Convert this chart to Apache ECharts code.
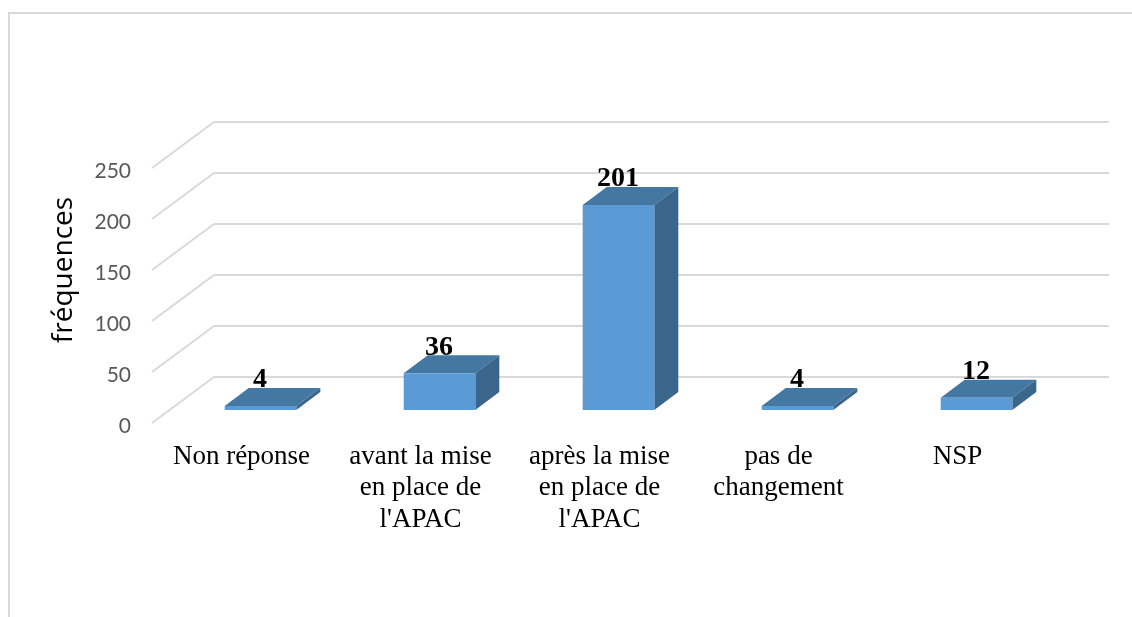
<!DOCTYPE html>
<html>
<head>
<meta charset="utf-8">
<style>html,body{margin:0;padding:0;background:#fff}#chart{width:1132px;height:617px}</style>
<script src="https://cdn.jsdelivr.net/npm/echarts@6/dist/echarts.min.js"></script>
</head>
<body>
<div id="chart"></div>
<script>
const categories = ['Non réponse', "avant la mise\nen place de\nl'APAC", "après la mise\nen place de\nl'APAC", 'pas de\nchangement', 'NSP'];
const frequencies = [4, 36, 201, 4, 12];
const yTicks = [0, 50, 100, 150, 200, 250];
const axisTitle = 'fréquences';

// Oblique projection of the 3D box: offsets from the back wall, in pixels.
const FLOOR_DX = -62, FLOOR_DY = 46;
const FRONT_DX = -43, FRONT_DY = 33;
const DEPTH_DX = 24, DEPTH_DY = -18;

function renderDiagonal(params, api) {
  const y = api.coord([0, api.value(0)])[1];
  const x = params.coordSys.x;
  return {
    type: 'polyline',
    shape: { points: [[x + FLOOR_DX, y + FLOOR_DY], [x, y]] },
    style: { stroke: '#d9d9d9', lineWidth: 2, fill: null }
  };
}

function renderBar(params, api) {
  const idx = api.value(0), val = api.value(1);
  const top = api.coord([idx, val]);
  const base = api.coord([idx, 0]);
  const w = api.size([1, 0])[0] * 0.4;
  const x0 = top[0] + FRONT_DX - w / 2, x1 = x0 + w;
  const yt = top[1] + FRONT_DY, yb = base[1] + FRONT_DY;
  const dx = DEPTH_DX, dy = DEPTH_DY;
  return {
    type: 'group',
    children: [
      { type: 'polygon', shape: { points: [[x0, yt], [x1, yt], [x1 + dx, yt + dy], [x0 + dx, yt + dy]] },
        style: { fill: '#4577a3' } },
      { type: 'polygon', shape: { points: [[x1, yt], [x1 + dx, yt + dy], [x1 + dx, yb + dy], [x1, yb]] },
        style: { fill: '#3b668c' } },
      { type: 'rect', shape: { x: x0, y: yt, width: w, height: yb - yt },
        style: { fill: '#5b9bd5' } },
      { type: 'text', z2: 10, style: {
          text: String(val), x: x0 + w / 2 - 0.5, y: yt - 26, align: 'center', verticalAlign: 'middle',
          font: 'bold 28px "Liberation Serif"', fill: '#000'
      } }
    ]
  };
}

const chart = echarts.init(document.getElementById('chart'), null, { renderer: 'canvas' });
chart.setOption({
  animation: false,
  backgroundColor: '#fff',
  graphic: [
    { type: 'polyline', silent: true,
      shape: { points: [[9, 617], [9, 13], [1132, 13]] },
      style: { stroke: '#d9d9d9', lineWidth: 2, fill: null } },
    { type: 'text', silent: true, x: 64, y: 270, rotation: Math.PI / 2,
      style: { text: axisTitle, align: 'center', verticalAlign: 'middle',
               font: '28px "Open Sans"', fill: '#000' } }
  ],
  grid: [
    // back wall of the box
    { left: 214, top: 122, width: 895, height: 255 },
    // front plane carrying the axis labels
    { left: 152, top: 171, width: 895, height: 255 }
  ],
  xAxis: [
    { gridIndex: 0, type: 'category', data: categories, show: false },
    { gridIndex: 1, type: 'category', data: categories,
      axisLine: { show: false }, axisTick: { show: false },
      axisLabel: { interval: 0, margin: 15, color: '#000', fontFamily: 'Liberation Serif', fontSize: 27, lineHeight: 31.5, verticalAlign: 'top' } }
  ],
  yAxis: [
    { gridIndex: 0, type: 'value', min: 0, max: 250, interval: 50,
      axisLine: { show: false }, axisTick: { show: false }, axisLabel: { show: false },
      splitLine: { lineStyle: { color: '#d9d9d9', width: 2 } } },
    { gridIndex: 1, type: 'value', min: 0, max: 250, interval: 50,
      axisLine: { show: false }, axisTick: { show: false }, splitLine: { show: false },
      axisLabel: { margin: 21, color: '#595959', fontFamily: 'Lato', fontSize: 21 } }
  ],
  series: [
    { type: 'custom', xAxisIndex: 0, yAxisIndex: 0, silent: true, clip: false, z: 1,
      data: yTicks.map(t => [t]), encode: { y: 0 }, renderItem: renderDiagonal },
    { type: 'custom', xAxisIndex: 0, yAxisIndex: 0, silent: true, clip: false, z: 2,
      data: frequencies.map((v, i) => [i, v]), encode: { x: 0, y: 1 }, renderItem: renderBar }
  ]
});
</script>
</body>
</html>
